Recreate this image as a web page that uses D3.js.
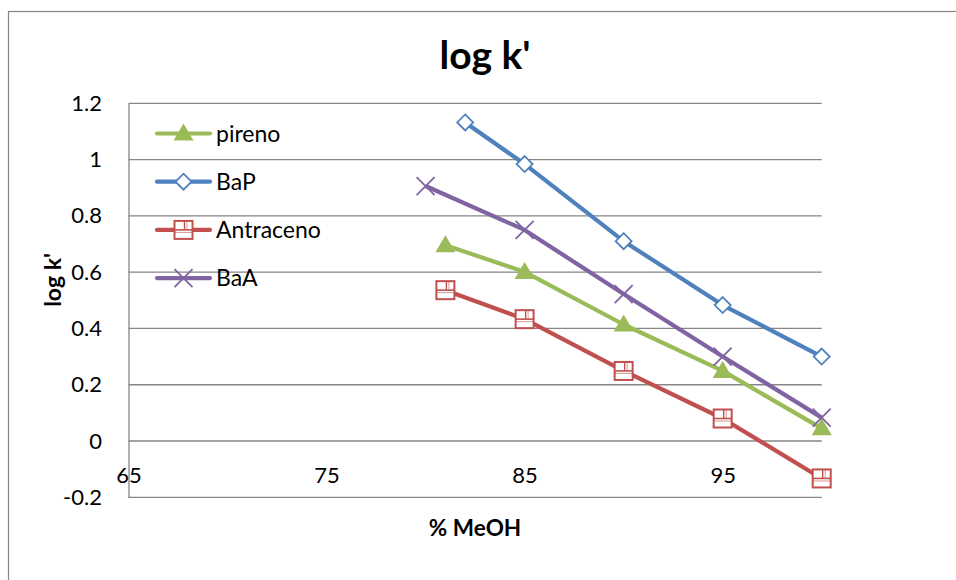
<!DOCTYPE html>
<html>
<head>
<meta charset="utf-8">
<script src="https://cdn.jsdelivr.net/npm/d3@7"></script>
<style>
  body { margin: 0; background: #fff; }
  svg { display: block; font-family: Lato, "Open Sans", sans-serif; }
</style>
</head>
<body>
<div id="chart"></div>
<script>
// datos
const pirenoX = [81, 85, 90, 95, 100];
const pirenoY = [0.696, 0.601, 0.414, 0.249, 0.045];
const bapX = [82, 85, 90, 95, 100];
const bapY = [1.132, 0.984, 0.710, 0.483, 0.300];
const antracenoX = [81, 85, 90, 95, 100];
const antracenoY = [0.536, 0.433, 0.249, 0.080, -0.133];
const baaX = [80, 85, 90, 95, 100];
const baaY = [0.906, 0.750, 0.522, 0.300, 0.083];
const xTicks = [65, 75, 85, 95];
const yTicks = [-0.2, 0, 0.2, 0.4, 0.6, 0.8, 1, 1.2];

const series = [
  { name: 'pireno', xs: pirenoX, ys: pirenoY, color: '#9BBB59', marker: 'triangle' },
  { name: 'BaP', xs: bapX, ys: bapY, color: '#4F81BD', marker: 'diamond' },
  { name: 'Antraceno', xs: antracenoX, ys: antracenoY, color: '#C0504D', marker: 'square' },
  { name: 'BaA', xs: baaX, ys: baaY, color: '#8064A2', marker: 'cross' }
];

const width = 956, height = 580;
const svg = d3.select('#chart').append('svg')
  .attr('width', width)
  .attr('height', height);

// borde exterior del grafico
svg.append('rect')
  .attr('x', 8.5).attr('y', 11.5)
  .attr('width', 1000).attr('height', 700)
  .attr('fill', 'none').attr('stroke', '#868686').attr('stroke-width', 1.2);

const xScale = d3.scaleLinear().domain([65, 100]).range([128.5, 821.7]);
const yScale = d3.scaleLinear().domain([-0.2, 1.2]).range([497.3, 103.3]);

// lineas de cuadricula
svg.append('g').selectAll('line')
  .data(yTicks)
  .enter().append('line')
  .attr('x1', xScale(65)).attr('x2', xScale(100))
  .attr('y1', d => yScale(d)).attr('y2', d => yScale(d))
  .attr('stroke', '#868686').attr('stroke-width', 1.3);

// eje Y
const yAxis = svg.append('g')
  .attr('transform', `translate(${xScale(65)},0)`)
  .call(d3.axisLeft(yScale).tickValues(yTicks).tickSize(0).tickPadding(26.5)
    .tickFormat(d => String(Math.round(d * 10) / 10)));
yAxis.select('.domain').attr('stroke', '#868686').attr('stroke-width', 1.3);
yAxis.selectAll('text').attr('font-size', 22).attr('fill', '#000')
  .attr('font-family', 'Lato, sans-serif');

// eje X (cruza en 0)
const xAxis = svg.append('g')
  .attr('transform', `translate(0,${yScale(0)})`)
  .call(d3.axisBottom(xScale).tickValues(xTicks).tickSize(0).tickPadding(26.5));
xAxis.select('.domain').remove();
xAxis.selectAll('text').attr('font-size', 22).attr('fill', '#000')
  .attr('font-family', 'Lato, sans-serif');

// titulos
svg.append('text')
  .attr('x', 485).attr('y', 69)
  .attr('text-anchor', 'middle')
  .attr('font-size', 39).attr('font-weight', 'bold')
  .text("log k'");

svg.append('text')
  .attr('transform', 'translate(61,280) rotate(-90)')
  .attr('text-anchor', 'middle')
  .attr('font-size', 23).attr('font-weight', 'bold')
  .text("log k'");

svg.append('text')
  .attr('x', 475).attr('y', 536)
  .attr('text-anchor', 'middle')
  .attr('font-size', 22.5).attr('font-weight', 'bold')
  .text('% MeOH');

function drawMarker(g, type, color) {
  if (type === 'triangle') {
    g.append('path').attr('d', 'M0,-10 L10,7 L-10,7 Z').attr('fill', color);
  } else if (type === 'diamond') {
    g.append('path').attr('d', 'M0,-8 L8,0 L0,8 L-8,0 Z')
      .attr('fill', '#fff').attr('stroke', color).attr('stroke-width', 1.8);
  } else if (type === 'square') {
    g.append('rect').attr('x', -9).attr('y', -9).attr('width', 18).attr('height', 18)
      .attr('fill', '#fff').attr('stroke', color).attr('stroke-width', 2);
    g.append('line').attr('x1', -9).attr('x2', 9).attr('y1', 0).attr('y2', 0)
      .attr('stroke', color).attr('stroke-width', 1.6);
    g.append('line').attr('x1', -9).attr('x2', 9).attr('y1', 2.5).attr('y2', 2.5)
      .attr('stroke', color).attr('stroke-width', 1).attr('opacity', 0.6);
    g.append('line').attr('x1', 1).attr('x2', 1).attr('y1', -9).attr('y2', 0)
      .attr('stroke', color).attr('stroke-width', 1.4);
    g.append('line').attr('x1', 3.5).attr('x2', 3.5).attr('y1', -9).attr('y2', 0)
      .attr('stroke', color).attr('stroke-width', 1).attr('opacity', 0.6);
  } else if (type === 'cross') {
    g.append('path').attr('d', 'M-9,-9 L9,9 M-9,9 L9,-9')
      .attr('fill', 'none').attr('stroke', color).attr('stroke-width', 1.8);
  }
}

const line = d3.line().x(d => xScale(d[0])).y(d => yScale(d[1]));

// lineas de las series
series.forEach(s => {
  const pts = s.xs.map((x, i) => [x, s.ys[i]]);
  svg.append('path')
    .datum(pts)
    .attr('d', line)
    .attr('fill', 'none')
    .attr('stroke', s.color)
    .attr('stroke-width', 4.2)
    .attr('stroke-linejoin', 'round');
});

// marcadores
series.forEach(s => {
  s.xs.forEach((x, i) => {
    const g = svg.append('g')
      .attr('transform', `translate(${xScale(x)},${yScale(s.ys[i])})`);
    drawMarker(g, s.marker, s.color);
  });
});

// leyenda
const legend = svg.append('g');
series.forEach((s, i) => {
  const y = 133.5 + i * 48.2;
  legend.append('line')
    .attr('x1', 157).attr('x2', 210).attr('y1', y).attr('y2', y)
    .attr('stroke', s.color).attr('stroke-width', 4.2).attr('stroke-linecap', 'round');
  const g = legend.append('g').attr('transform', `translate(183.5,${y})`);
  drawMarker(g, s.marker, s.color);
  legend.append('text')
    .attr('x', 216).attr('y', y + 8)
    .attr('font-size', 23)
    .text(s.name);
});
</script>
</body>
</html>
